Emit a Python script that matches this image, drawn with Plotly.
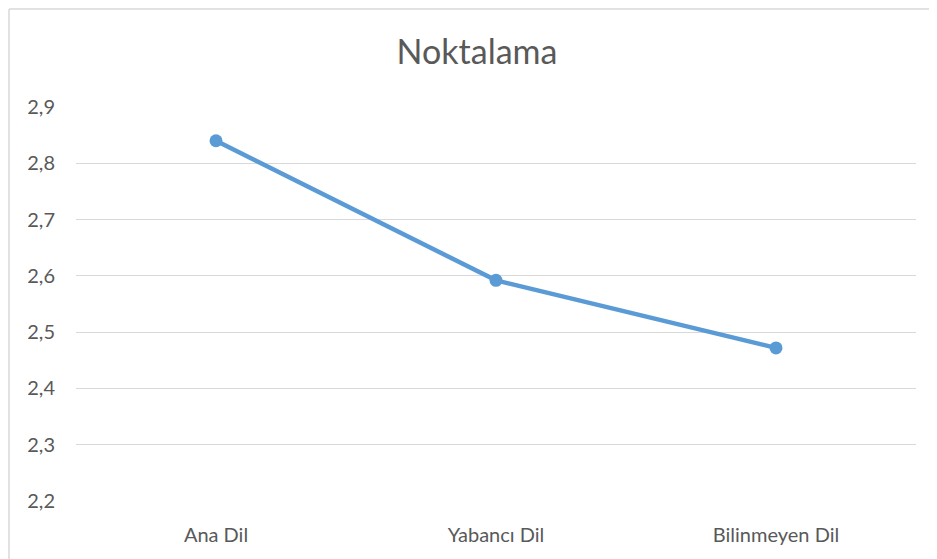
import plotly.graph_objects as go

categories = ['Ana Dil', 'Yabancı Dil', 'Bilinmeyen Dil']
values = [2.84, 2.592, 2.472]
y_ticks = [2.2, 2.3, 2.4, 2.5, 2.6, 2.7, 2.8, 2.9]

# page puts the figure 8px in from the top-left corner,
# so shrink it by that much to avoid scrollbars
off = 8
W, H = 937 - off, 559 - off
ml, mr, mt, mb = 76 - off, 21, 107 - off, 58
pw, ph = W - ml - mr, H - mt - mb

# outer chart border: only the left and top edges are visible
bx0 = (9 - off - ml) / pw
bx1 = (W - ml) / pw
by0 = -mb / ph
by1 = 1 + (mt - 9 + off) / ph
border = dict(color='#D9D9D9', width=1.5)

fig = go.Figure()
fig.add_trace(go.Scatter(
    x=categories,
    y=values,
    mode='lines+markers',
    line=dict(color='#5B9BD5', width=4.5),
    marker=dict(color='#5B9BD5', size=13),
    showlegend=False,
))

fig.update_layout(
    width=W,
    height=H,
    autosize=False,
    margin=dict(t=mt, b=mb, l=ml, r=mr),
    paper_bgcolor='white',
    plot_bgcolor='white',
    separators=', ',
    font=dict(family='Lato', color='#595959'),
    title=dict(
        text='Noktalama',
        x=(477 - off) / W,
        xref='container',
        xanchor='center',
        y=1 - (52 - off) / H,
        yref='container',
        yanchor='middle',
        font=dict(size=34, color='#595959'),
    ),
    xaxis=dict(
        range=[-0.5, 2.5],
        showgrid=False,
        showline=False,
        zeroline=False,
        tickfont=dict(size=20),
        ticklabelstandoff=20,
    ),
    yaxis=dict(
        range=[2.2, 2.9],
        tickvals=y_ticks,
        tickformat='.1f',
        showgrid=True,
        gridcolor='#D9D9D9',
        gridwidth=1.3,
        zeroline=False,
        showline=False,
        tickfont=dict(size=20),
        ticklabelstandoff=20,
    ),
    shapes=[
        dict(type='line', xref='paper', yref='paper',
             x0=bx0, x1=bx0, y0=by0, y1=by1, line=border, layer='below'),
        dict(type='line', xref='paper', yref='paper',
             x0=bx0, x1=bx1, y0=by1, y1=by1, line=border, layer='below'),
    ],
)

fig.write_html("out.html")
